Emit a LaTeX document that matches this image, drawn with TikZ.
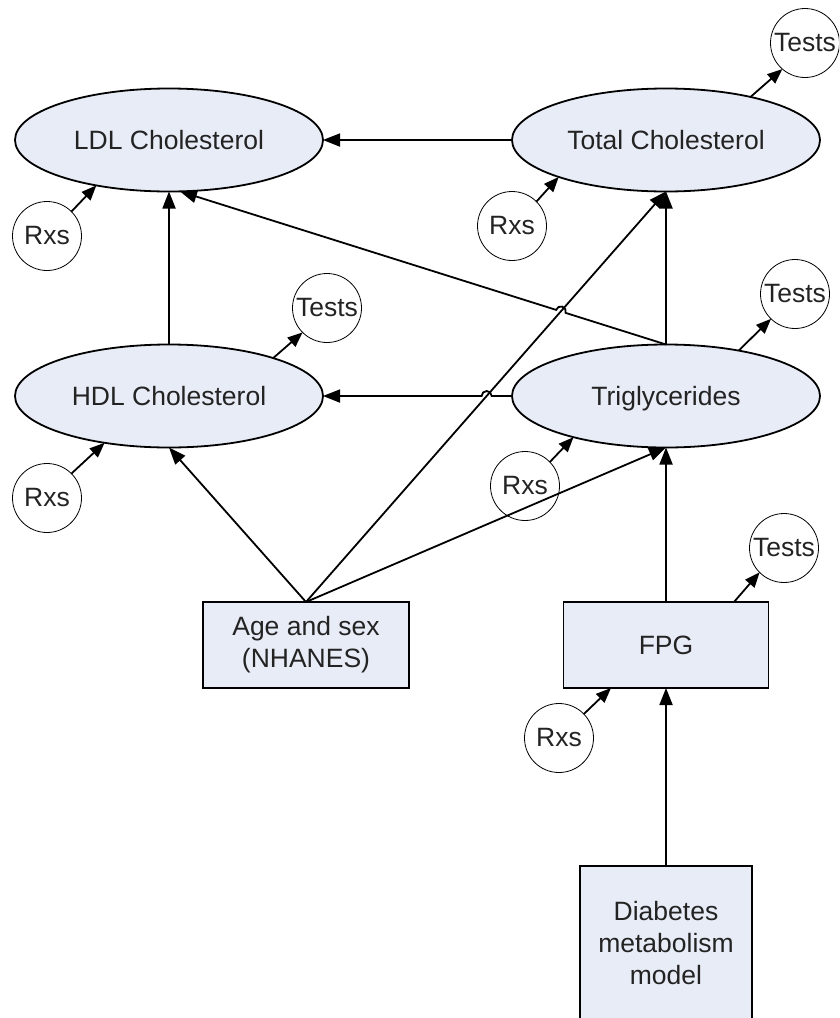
\documentclass[tikz,border=0pt]{standalone}
\usepackage{fontspec}
\setmainfont{Liberation Sans}
\usetikzlibrary{shapes.geometric,arrows.meta,calc,intersections}
\definecolor{nodefill}{RGB}{232,236,246}
\definecolor{txt}{RGB}{35,35,35}
\begin{document}
\begin{tikzpicture}[x=1pt,y=1pt,
  every node/.style={font=\fontsize{26.5}{32}\selectfont, text=txt},
  ell/.style={ellipse, draw, line width=1.8pt, fill=nodefill, minimum width=308pt, minimum height=103pt, inner sep=0pt, outer sep=0pt, text height=19pt, text depth=0pt},
  box/.style={rectangle, draw, line width=1.8pt, fill=nodefill, align=center, inner sep=0pt, outer sep=0pt},
  aux/.style={circle, draw, line width=0.8pt, minimum size=69pt, inner sep=0pt, outer sep=0pt},
  arr/.style={line width=1.8pt, -{Triangle[length=17pt,width=13pt]}},
  sarr/.style={line width=1.8pt, -{Triangle[length=15pt,width=12pt]}}]
\clip (0,0) rectangle (839,-1018);
% main nodes
\node[ell] (ldl) at (169,-140) {LDL Cholesterol};
\node[ell] (total) at (666,-140) {Total Cholesterol};
\node[ell] (hdl) at (169,-396) {HDL Cholesterol};
\node[ell] (trig) at (666,-396) {Triglycerides};
\node[box, minimum width=206pt, minimum height=86pt] (age) at (306,-645) {Age and sex\\(NHANES)};
\node[box, minimum width=205pt, minimum height=86pt] (fpg) at (666,-645) {FPG};
\node[box, minimum width=172pt, minimum height=154pt] (diab) at (666,-943) {Diabetes\\metabolism\\model};
% auxiliary circles
\node[aux] (rxs1) at (47,-236) {Rxs};
\node[aux] (rxs2) at (512,-226) {Rxs};
\node[aux] (rxs3) at (47,-498) {Rxs};
\node[aux] (rxs4) at (525,-486) {Rxs};
\node[aux] (rxs5) at (559,-738) {Rxs};
\node[aux] (tests1) at (805,-43) {Tests};
\node[aux] (tests2) at (327,-308) {Tests};
\node[aux] (tests3) at (795,-294) {Tests};
\node[aux] (tests4) at (784,-548) {Tests};
% small arrows
\draw[sarr] (rxs1.45) -- (ldl.212);
\draw[sarr] (rxs2.45) -- (total.199);
\draw[sarr] (total.27) -- (tests1.229);
\draw[sarr] (hdl.20) -- (tests2.225);
\draw[sarr] (rxs3.45) -- (hdl.216);
\draw[sarr] (trig.32) -- (tests3.226);
\draw[sarr] (rxs4.44) -- (trig.204);
\draw[sarr] ([xshift=68pt]fpg.north) -- (tests4.225);
\draw[sarr] (rxs5.44) -- ([xshift=-55pt]fpg.south);
% main arrows
\draw[arr] (total.west) -- (ldl.east);
\draw[arr] (trig.north) -- (total.south);
\draw[arr] (hdl.north) -- (ldl.south);
\draw[arr] (age.north) -- (hdl.south);
\draw[arr] (age.north) -- (total.south);
\draw[arr] (age.north) -- (trig.south);
\draw[arr] (fpg.north) -- (trig.south);
\draw[arr] (diab.north) -- (fpg.south);
% crossing lines with hops
\path[name path=diag] (age.north) -- (total.south);
\path[name path=hline] (trig.west) -- (hdl.east);
\path[name path=sline] (trig.north) -- (ldl.282);
\path[name intersections={of=diag and hline, by={X1}}];
\path[name intersections={of=diag and sline, by={X2}}];
\draw[arr] (trig.west) -- ([xshift=5pt]X1) arc[start angle=0,end angle=180,radius=5pt] -- (hdl.east);
\draw[arr] (trig.north) -- ($(X2)!5pt!(trig.north)$) arc[start angle=-17.5,end angle=162.5,radius=5pt] -- (ldl.282);
\end{tikzpicture}
\end{document}
